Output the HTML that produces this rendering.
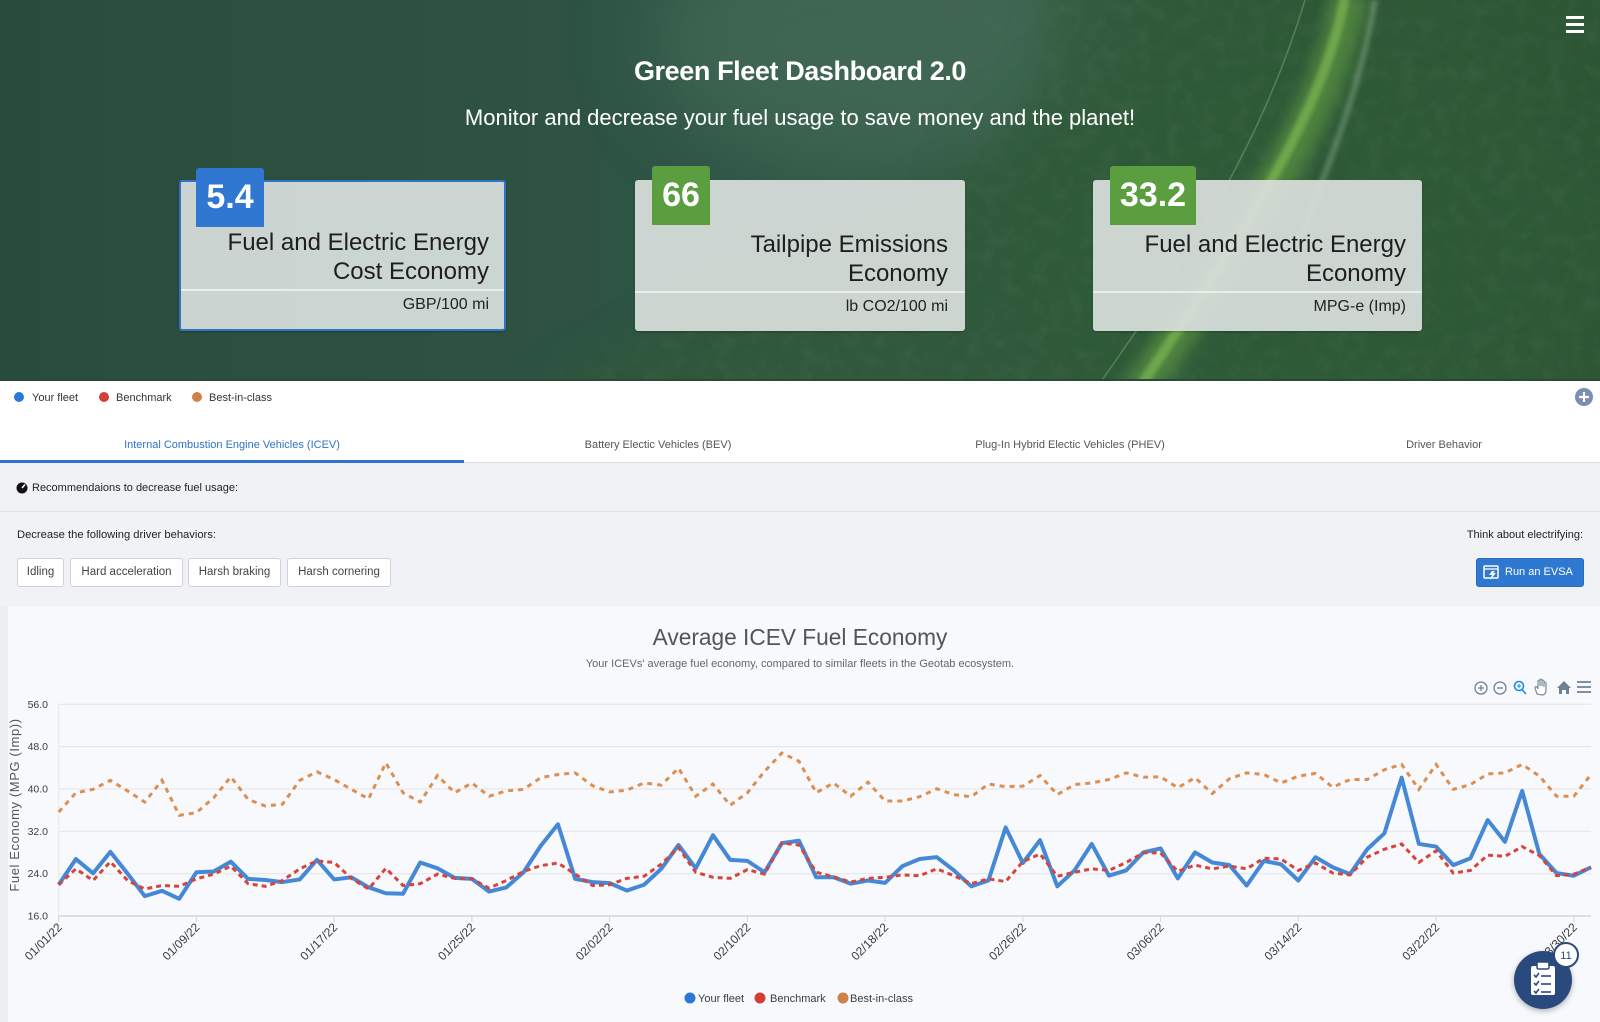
<!DOCTYPE html>
<html><head><meta charset="utf-8">
<style>
*{margin:0;padding:0;box-sizing:border-box}
html,body{width:1600px;height:1022px;overflow:hidden;background:#f8f9fc;font-family:"Liberation Sans",Arial,sans-serif}
.abs{position:absolute}
.card{position:absolute;top:180px;height:151px;background:rgba(216,223,219,0.93);border-radius:3px;box-shadow:0 1px 2px rgba(0,0,0,0.25)}
.badge{position:absolute;color:#fff;font-weight:bold;font-size:34px;text-align:center;line-height:59px;height:59px;top:-14px;border-radius:3px 3px 0 0}
.ct{position:absolute;right:17px;text-align:right;font-size:24px;color:#1e1e1e;line-height:29px;white-space:nowrap}
.cu{position:absolute;right:17px;text-align:right;font-size:16px;color:#222;white-space:nowrap}
.div{position:absolute;left:0;right:0;height:2px;background:rgba(240,243,241,0.8)}
.chip{position:absolute;top:558px;height:29px;border:1px solid #cfd3d9;border-radius:3px;background:#fff;font-size:11.5px;color:#444;line-height:27px;text-align:center}
.tab{position:absolute;top:437px;font-size:11px;color:#555;white-space:nowrap;transform:translateX(-50%);line-height:16px}
</style></head>
<body>
<div class="abs" style="left:0;top:0;width:1600px;height:1022px">

<!-- HEADER BG -->
<svg class="abs" style="left:0;top:0" width="1600" height="381" viewBox="0 0 1600 381">
<defs>
<linearGradient id="bg" x1="0" y1="0" x2="1" y2="0">
<stop offset="0" stop-color="#2a4c3c"/>
<stop offset="0.4" stop-color="#2e5444"/>
<stop offset="0.62" stop-color="#325a46"/>
<stop offset="0.8" stop-color="#2f5a39"/>
<stop offset="1" stop-color="#2b5233"/>
</linearGradient>
<filter id="b20" x="-100%" y="-100%" width="300%" height="300%"><feGaussianBlur stdDeviation="40"/></filter>
<filter id="b15" x="-50%" y="-50%" width="200%" height="200%"><feGaussianBlur stdDeviation="18"/></filter>
<filter id="b6" x="-100%" y="-20%" width="300%" height="140%"><feGaussianBlur stdDeviation="7"/></filter>
<filter id="b2" x="-100%" y="-20%" width="300%" height="140%"><feGaussianBlur stdDeviation="2"/></filter>
<filter id="tex" x="0" y="0" width="100%" height="100%">
<feTurbulence type="fractalNoise" baseFrequency="0.06" numOctaves="3" seed="4"/>
<feColorMatrix type="matrix" values="0 0 0 0 0.24  0 0 0 0 0.42  0 0 0 0 0.26  0 0 0 1.2 -0.5"/>
</filter>
<mask id="fm" maskUnits="userSpaceOnUse" x="0" y="0" width="1600" height="381">
<path d="M1060,-60 L1700,-60 L1700,450 L540,450 L560,381 C700,300 900,220 1000,150 C1040,110 1050,50 1060,-60Z" fill="#fff" filter="url(#b15)"/>
</mask>
</defs>
<rect width="1600" height="381" fill="url(#bg)"/>
<ellipse cx="880" cy="40" rx="230" ry="130" fill="#4a6f5c" opacity="0.6" filter="url(#b20)"/>
<ellipse cx="1300" cy="250" rx="320" ry="200" fill="#2f5d37" opacity="0.6" filter="url(#b20)"/>
<g mask="url(#fm)">
<rect x="400" y="0" width="1200" height="381" fill="#2e5837" opacity="0.6"/>
<rect x="400" y="0" width="1200" height="381" filter="url(#tex)" opacity="0.15"/>
</g>
<path d="M1350,-5 C1330,110 1250,230 1140,390" stroke="#6aa845" stroke-width="36" fill="none" opacity="0.5" filter="url(#b6)"/>
<path d="M1345,-5 C1325,110 1245,230 1138,390" stroke="#8cc657" stroke-width="10" fill="none" opacity="0.55" filter="url(#b2)"/>
<path d="M1305,0 C1260,150 1180,270 1095,390" stroke="#9fcf86" stroke-width="1.5" fill="none" opacity="0.35"/>
<path d="M1375,0 C1360,90 1330,160 1300,240" stroke="#b7d9b5" stroke-width="6" fill="none" opacity="0.3" filter="url(#b2)"/>
<rect x="0" y="379" width="1600" height="2" fill="#2a4a36"/>
</svg>

<!-- hamburger -->
<div class="abs" style="left:1566px;top:16px;width:18px;height:3px;background:#fff"></div>
<div class="abs" style="left:1566px;top:23px;width:18px;height:3px;background:#fff"></div>
<div class="abs" style="left:1566px;top:30px;width:18px;height:3px;background:#fff"></div>

<div class="abs" style="left:0;width:1600px;top:54px;text-align:center;color:#fff;font-weight:bold;font-size:27px;letter-spacing:-0.4px;line-height:34px">Green Fleet Dashboard 2.0</div>
<div class="abs" style="left:0;width:1600px;top:104px;text-align:center;color:#fff;font-size:22px;line-height:28px">Monitor and decrease your fuel usage to save money and the planet!</div>

<!-- cards -->
<div class="card" style="left:179px;width:327px;border:2px solid #2e74c9;background:rgba(214,221,218,0.94)">
<div class="badge" style="left:15px;width:68px;top:-14px;background:#2f77d0">5.4</div>
<div class="ct" style="top:46px;right:15px">Fuel and Electric Energy<br>Cost Economy</div>
<div class="div" style="top:107px"></div>
<div class="cu" style="top:114px;right:15px">GBP/100 mi</div>
</div>
<div class="card" style="left:635px;width:330px">
<div class="badge" style="left:17px;width:58px;background:#5a9e40">66</div>
<div class="ct" style="top:50px">Tailpipe Emissions<br>Economy</div>
<div class="div" style="top:111px"></div>
<div class="cu" style="top:118px">lb CO2/100 mi</div>
</div>
<div class="card" style="left:1093px;width:329px">
<div class="badge" style="left:17px;width:86px;background:#5a9e40">33.2</div>
<div class="ct" style="top:50px;right:16px">Fuel and Electric Energy<br>Economy</div>
<div class="div" style="top:111px"></div>
<div class="cu" style="top:118px;right:16px">MPG-e (Imp)</div>
</div>

<!-- white strip: legend + tabs -->
<div class="abs" style="left:0;top:381px;width:1600px;height:82px;background:#fff"></div>
<svg class="abs" style="left:0;top:381px" width="1600" height="82">
<circle cx="19" cy="16" r="5" fill="#2a78d6"/>
<circle cx="104" cy="16" r="5" fill="#d23f36"/>
<circle cx="197" cy="16" r="5" fill="#cf8148"/>
<text x="32" y="20" font-size="11" fill="#333" font-family="Liberation Sans">Your fleet</text>
<text x="116" y="20" font-size="11" fill="#333" font-family="Liberation Sans">Benchmark</text>
<text x="209" y="20" font-size="11" fill="#333" font-family="Liberation Sans">Best-in-class</text>
<circle cx="1584" cy="16" r="9" fill="#7a8db3"/>
<path d="M1584,11 V21 M1579,16 H1589" stroke="#fff" stroke-width="2.2"/>
<rect x="0" y="81" width="1600" height="1" fill="#d9dce1"/>
<rect x="0" y="79" width="464" height="3" fill="#2f72c7"/>
</svg>
<div class="tab" style="left:232px;color:#3173c6">Internal Combustion Engine Vehicles (ICEV)</div>
<div class="tab" style="left:658px">Battery Electic Vehicles (BEV)</div>
<div class="tab" style="left:1070px">Plug-In Hybrid Electic Vehicles (PHEV)</div>
<div class="tab" style="left:1444px">Driver Behavior</div>

<!-- gray area -->
<div class="abs" style="left:0;top:463px;width:1600px;height:143px;background:#f0f2f5"></div>
<div class="abs" style="left:0;top:511px;width:1600px;height:1px;background:#e0e3e8"></div>
<svg class="abs" style="left:16px;top:482px" width="13" height="12"><circle cx="6" cy="6" r="5.5" fill="#111"/><path d="M6,6 L9,2.5" stroke="#fff" stroke-width="1.6"/></svg>
<div class="abs" style="left:32px;top:480px;font-size:11px;color:#222;line-height:16px">Recommendaions to decrease fuel usage:</div>
<div class="abs" style="left:17px;top:527px;font-size:11.2px;color:#222;line-height:16px">Decrease the following driver behaviors:</div>
<div class="abs" style="right:17px;top:527px;font-size:11px;color:#222;line-height:16px">Think about electrifying:</div>
<div class="chip" style="left:17px;width:47px">Idling</div>
<div class="chip" style="left:70px;width:113px">Hard acceleration</div>
<div class="chip" style="left:188px;width:93px">Harsh braking</div>
<div class="chip" style="left:287px;width:104px">Harsh cornering</div>
<div class="abs" style="left:1476px;top:558px;width:108px;height:29px;background:#2f78d1;border-radius:3px;border:1px solid #2a6cbf"></div>
<svg class="abs" style="left:1483px;top:565px" width="18" height="16"><rect x="1" y="1" width="14" height="12" rx="1" fill="none" stroke="#fff" stroke-width="1.5"/><path d="M1,4 H15" stroke="#fff" stroke-width="1.3"/><path d="M9,6 L6,10 H9 L7,15 L13,8 H10 L12,6Z" fill="#fff"/></svg>
<div class="abs" style="left:1505px;top:565px;font-size:11px;color:#fff;line-height:15px">Run an EVSA</div>

<!-- chart panel -->
<div class="abs" style="left:0;top:606px;width:8px;height:416px;background:#eceef2"></div>

<svg class="abs" style="left:0;top:0" width="1600" height="1022" viewBox="0 0 1600 1022">
<text x="800" y="645" text-anchor="middle" font-size="22.7" fill="#555" font-family="Liberation Sans">Average ICEV Fuel Economy</text>
<text x="800" y="667" text-anchor="middle" font-size="11" fill="#666" font-family="Liberation Sans">Your ICEVs' average fuel economy, compared to similar fleets in the Geotab ecosystem.</text>

<!-- toolbar -->
<g stroke="#6e8192" fill="none" stroke-width="1.3">
<circle cx="1481" cy="688" r="6"/><path d="M1478,688 H1484 M1481,685 V691"/>
<circle cx="1500" cy="688" r="6"/><path d="M1497,688 H1503"/>
</g>
<g stroke="#1a8cf0" fill="none" stroke-width="1.6">
<circle cx="1519" cy="686" r="4.5"/><path d="M1522,689.5 L1526,694"/><path d="M1517,686 H1521 M1519,684 V688" stroke-width="1"/>
</g>
<path d="M1537,694 L1535,688 Q1535,686 1537,687 L1538,689 L1538,681 Q1539,679 1540,681 L1540,686 L1540,680 Q1541,678 1542,680 L1542,686 L1542,681 Q1543,679 1544,681 L1544,687 L1544,683 Q1545,681 1546,683 L1546,690 Q1546,694 1543,695 Z" fill="#fff" stroke="#6e8192" stroke-width="1.1"/>
<path d="M1557,688 L1564,681 L1571,688 H1569 V694 H1566 V690 H1562 V694 H1559 V688Z" fill="#6e8192"/>
<path d="M1577,682 H1591 M1577,687 H1591 M1577,692 H1591" stroke="#6e8192" stroke-width="1.8"/>

<!-- grid -->
<g stroke="#e2e4e8" stroke-width="1">
<line x1="58.7" y1="704.3" x2="1591" y2="704.3"/>
<line x1="58.7" y1="746.6" x2="1591" y2="746.6"/>
<line x1="58.7" y1="789" x2="1591" y2="789"/>
<line x1="58.7" y1="831.3" x2="1591" y2="831.3"/>
<line x1="58.7" y1="873.7" x2="1591" y2="873.7"/>
</g>
<line x1="58.7" y1="704" x2="58.7" y2="916" stroke="#e6e8eb"/>
<line x1="58.7" y1="916" x2="1591" y2="916" stroke="#d4d6da" stroke-width="1.5"/>
<g stroke="#d4d6da" stroke-width="1">
<line x1="58.7" y1="916" x2="58.7" y2="922"/><line x1="196.4" y1="916" x2="196.4" y2="922"/><line x1="334.2" y1="916" x2="334.2" y2="922"/><line x1="471.9" y1="916" x2="471.9" y2="922"/><line x1="609.6" y1="916" x2="609.6" y2="922"/><line x1="747.4" y1="916" x2="747.4" y2="922"/><line x1="885.1" y1="916" x2="885.1" y2="922"/><line x1="1022.9" y1="916" x2="1022.9" y2="922"/><line x1="1160.6" y1="916" x2="1160.6" y2="922"/><line x1="1298.3" y1="916" x2="1298.3" y2="922"/><line x1="1436.1" y1="916" x2="1436.1" y2="922"/><line x1="1573.8" y1="916" x2="1573.8" y2="922"/>
</g>

<!-- y labels -->
<g font-size="10.5" fill="#373d3f" text-anchor="end" font-family="Liberation Sans">
<text x="48" y="708">56.0</text>
<text x="48" y="750">48.0</text>
<text x="48" y="792.5">40.0</text>
<text x="48" y="835">32.0</text>
<text x="48" y="877">24.0</text>
<text x="48" y="919.5">16.0</text>
</g>
<text transform="translate(19,805) rotate(-90)" text-anchor="middle" font-size="13" letter-spacing="0.6" fill="#555" font-family="Liberation Sans">Fuel Economy (MPG (Imp))</text>

<!-- x labels -->
<g font-size="12" fill="#373d3f" text-anchor="end" font-family="Liberation Sans">
<text transform="translate(62.7,928) rotate(-45)">01/01/22</text>
<text transform="translate(200.4,928) rotate(-45)">01/09/22</text>
<text transform="translate(338.2,928) rotate(-45)">01/17/22</text>
<text transform="translate(475.9,928) rotate(-45)">01/25/22</text>
<text transform="translate(613.6,928) rotate(-45)">02/02/22</text>
<text transform="translate(751.4,928) rotate(-45)">02/10/22</text>
<text transform="translate(889.1,928) rotate(-45)">02/18/22</text>
<text transform="translate(1026.9,928) rotate(-45)">02/26/22</text>
<text transform="translate(1164.6,928) rotate(-45)">03/06/22</text>
<text transform="translate(1302.3,928) rotate(-45)">03/14/22</text>
<text transform="translate(1440.1,928) rotate(-45)">03/22/22</text>
<text transform="translate(1577.8,928) rotate(-45)">03/30/22</text>
</g>

<!-- series -->
<g transform="translate(58.7,916) scale(17.217,-5.3) translate(0,-16)" fill="none">
<polyline vector-effect="non-scaling-stroke" stroke="#4589d6" stroke-width="4" stroke-linejoin="round" points="0,21.9 1,26.75 2,24.06 3,28.1 4,24 5,19.75 6,20.75 7,19.25 8,24.25 9,24.4 10,26.25 11,23 12,22.8 13,22.4 14,22.9 15,26.6 16,22.9 17,23.3 18,21.4 19,20.3 20,20.2 21,26.1 22,25 23,23.2 24,23 25,20.6 26,21.4 27,24.25 28,29.25 29,33.3 30,23 31,22.4 32,22.2 33,20.8 34,21.9 35,24.9 36,29.4 37,25 38,31.25 39,26.6 40,26.4 41,24.25 42,29.75 43,30.2 44,23.3 45,23.3 46,22.1 47,22.7 48,22.25 49,25.4 50,26.75 51,27.1 52,24.6 53,21.6 54,22.7 55,32.7 56,26 57,30.3 58,21.6 59,24.6 60,29.6 61,23.6 62,24.6 63,28 64,28.75 65,23.1 66,28 67,26.1 68,25.6 69,21.75 70,26.4 71,25.75 72,22.7 73,27.1 74,25.2 75,23.9 76,28.6 77,31.6 78,42.1 79,29.6 80,29.1 81,25.6 82,26.9 83,34.1 84,30 85,39.6 86,27.7 87,24.1 88,23.6 89,25.2"/>
<polyline vector-effect="non-scaling-stroke" stroke="#d6453d" stroke-width="3" stroke-dasharray="5 4" points="0,21.9 1,24.9 2,22.7 3,26.25 4,22.7 5,21.1 6,21.75 7,21.6 8,23 9,23.9 10,25.4 11,22.1 12,21.6 13,22.7 14,24.9 15,26.4 16,26.1 17,23.1 18,21.1 19,25 20,21.75 21,22.1 22,23.9 23,23.1 24,23 25,21.25 26,22.7 27,24.4 28,25.5 29,26 30,23.9 31,21.75 32,21.9 33,23.1 34,23.5 35,25.8 36,28.9 37,24.25 38,23.3 39,23.1 40,24.75 41,23.9 42,29.75 43,29.4 44,24.25 45,23.4 46,22.4 47,23.1 48,23.3 49,23.75 50,23.6 51,24.9 52,23.6 53,22.1 54,23 55,22.5 56,26.25 57,27.7 58,23.5 59,24.25 60,24.9 61,24.6 62,26.1 63,27.9 64,27.9 65,24.4 66,25.6 67,24.9 68,25.4 69,24.9 70,26.9 71,26.75 72,24.6 73,26 74,24.1 75,23.75 76,27.1 77,28.6 78,29.6 79,26.1 80,28.3 81,24.1 82,24.6 83,27.5 84,27.25 85,29.1 86,27.4 87,23.6 88,23.9 89,25.2"/>
<polyline vector-effect="non-scaling-stroke" stroke="#dd8f52" stroke-width="3" stroke-dasharray="5 5" points="0,35.6 1,39.25 2,39.9 3,41.6 4,39.6 5,37.5 6,41.6 7,35 8,35.5 9,38.3 10,42.25 11,38 12,36.75 13,37.1 14,41.6 15,43.2 16,41.75 17,39.9 18,38.1 19,44.9 20,39.25 21,37.5 22,42.5 23,39.25 24,41.1 25,38.6 26,39.6 27,39.9 28,42.1 29,42.7 30,43 31,40.6 32,39.4 33,39.75 34,41.1 35,40.7 36,43.9 37,38.6 38,40.9 39,36.9 40,39.25 41,43.3 42,46.75 43,45.2 44,39.25 45,41.1 46,38.6 47,41.25 48,37.7 49,37.7 50,38.5 51,40 52,38.9 53,38.5 54,40.9 55,40.4 56,40.5 57,42.5 58,38.9 59,40.8 60,41.1 61,41.75 62,43 63,42.2 64,42.25 65,40.2 66,42.1 67,39.1 68,41.9 69,43 70,42.7 71,41.1 72,42.4 73,42.9 74,40.3 75,41.75 76,41.75 77,43.6 78,44.6 79,39.9 80,44.6 81,39.9 82,40.8 83,42.8 84,43 85,44.6 86,42.4 87,38.6 88,38.6 89,42.7"/>
</g>

<!-- bottom legend -->
<circle cx="690" cy="998" r="5.5" fill="#2a78d6"/>
<circle cx="760" cy="998" r="5.5" fill="#d23f36"/>
<circle cx="843" cy="998" r="5.5" fill="#cf8148"/>
<g font-size="11" fill="#373d3f" font-family="Liberation Sans">
<text x="698" y="1002">Your fleet</text>
<text x="770" y="1002">Benchmark</text>
<text x="850" y="1002">Best-in-class</text>
</g>

<!-- floating button -->
<defs><filter id="sh" x="-50%" y="-50%" width="200%" height="200%"><feDropShadow dx="0" dy="2" stdDeviation="3" flood-opacity="0.3"/></filter></defs>
<circle cx="1543" cy="980" r="29" fill="#2c4a7c" filter="url(#sh)"/>
<rect x="1531" y="966" width="24" height="29" rx="2" fill="#fff"/>
<rect x="1537" y="962" width="12" height="7" rx="1.5" fill="#fff" stroke="#2c4a7c" stroke-width="1.5"/>
<g stroke="#2c4a7c" stroke-width="1.6" fill="none">
<path d="M1534,975 l2,2 l3,-4"/><path d="M1541,976 H1551"/>
<path d="M1534,983 l2,2 l3,-4"/><path d="M1541,984 H1551"/>
<path d="M1534,991 l2,2 l3,-4"/><path d="M1541,992 H1551"/>
</g>
<circle cx="1566" cy="955" r="12" fill="#fff" stroke="#2c4a7c" stroke-width="2"/>
<text x="1566" y="959" text-anchor="middle" font-size="11" fill="#2c4a7c" font-family="Liberation Sans">11</text>
</svg>

</div>
</body></html>
